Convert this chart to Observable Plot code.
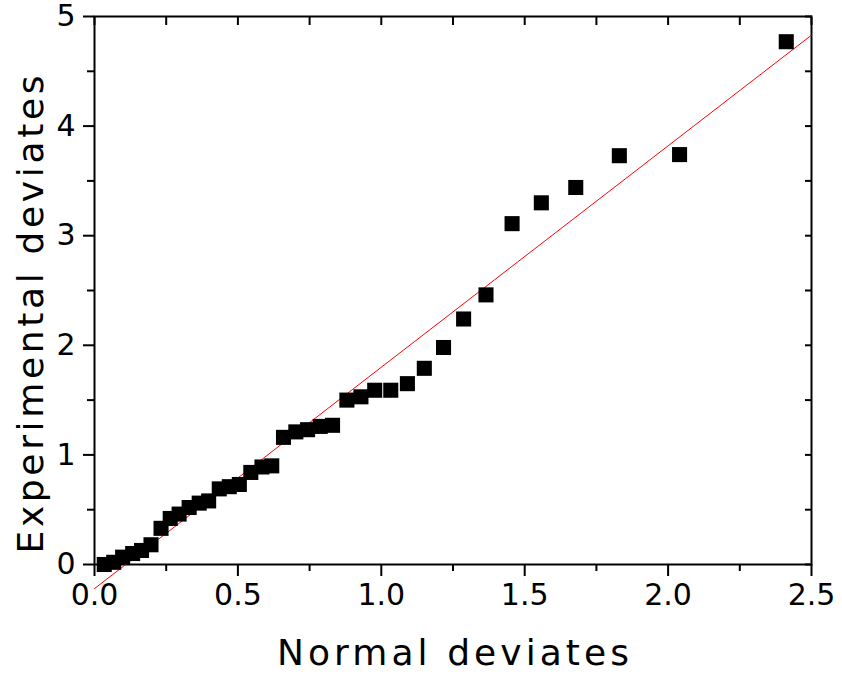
<!DOCTYPE html>
<html><head><meta charset="utf-8">
<script src="https://cdn.jsdelivr.net/npm/d3@7"></script>
<script src="https://cdn.jsdelivr.net/npm/@observablehq/plot@0.6"></script>
<style>html,body{margin:0;padding:0;background:#fff} svg{display:block}</style>
</head><body><div id="chart"></div>
<script>
const normalDeviates = [0.034,0.067,0.098,0.133,0.164,0.197,0.232,0.264,0.295,0.330,0.365,0.398,0.435,0.470,0.505,0.545,0.584,0.618,0.659,0.702,0.743,0.787,0.830,0.880,0.929,0.977,1.033,1.091,1.150,1.217,1.287,1.365,1.456,1.558,1.678,1.830,2.040,2.412];
const experimentalDeviates = [0.00,0.02,0.067,0.10,0.128,0.18,0.33,0.42,0.46,0.52,0.56,0.58,0.69,0.71,0.73,0.84,0.89,0.90,1.16,1.21,1.23,1.26,1.27,1.50,1.53,1.59,1.59,1.65,1.79,1.98,2.24,2.46,3.11,3.30,3.44,3.73,3.74,4.77];
const fitX = [0, 2.5];
const fitY = [-0.22, 4.83];
const xMajorTicks = [0, 0.5, 1.0, 1.5, 2.0, 2.5];
const xMinorTicks = [0.25, 0.75, 1.25, 1.75, 2.25];
const yMajorTicks = [0, 1, 2, 3, 4, 5];
const yMinorTicks = [0.5, 1.5, 2.5, 3.5, 4.5];
const xTitle = "Normal deviates";
const yTitle = "Experimental deviates";

const points = normalDeviates.map((x, i) => ({x, y: experimentalDeviates[i]}));
const fit = fitX.map((x, i) => ({x, y: fitY[i]}));
const blank = () => "";

const chart = Plot.plot({
  width: 842, height: 679,
  marginLeft: 94, marginRight: 31, marginTop: 16, marginBottom: 115,
  style: {fontFamily: "DejaVu Sans", fontSize: "30px", color: "black", background: "white", overflow: "visible"},
  x: {domain: [0, 2.5]},
  y: {domain: [0, 5]},
  marks: [
    Plot.axisX({anchor: "bottom", ticks: xMajorTicks, tickSize: 12, tickPadding: 7, tickFormat: d3.format(".1f"), label: null, fontSize: 30, strokeWidth: 2}),
    Plot.axisX({anchor: "bottom", ticks: xMinorTicks, tickSize: 7, tickFormat: blank, label: null, strokeWidth: 2}),
    Plot.axisX({anchor: "top", ticks: xMajorTicks.concat(xMinorTicks), tickSize: -8, tickFormat: blank, label: null, strokeWidth: 2}),
    Plot.axisY({anchor: "left", ticks: yMajorTicks, tickSize: 11, tickPadding: 8, tickFormat: d3.format("d"), label: null, fontSize: 30, strokeWidth: 2}),
    Plot.axisY({anchor: "left", ticks: yMinorTicks, tickSize: 7, tickFormat: blank, label: null, strokeWidth: 2}),
    Plot.axisY({anchor: "right", ticks: yMajorTicks.concat(yMinorTicks), tickSize: -7, tickFormat: blank, label: null, strokeWidth: 2}),
    Plot.frame({stroke: "black", strokeWidth: 2}),
    Plot.line(fit, {x: "x", y: "y", stroke: "#ff0000", strokeWidth: 1}),
    Plot.dot(points, {x: "x", y: "y", symbol: "square", r: 8.5, fill: "black", stroke: "none"}),
    Plot.text([xTitle], {text: d => d, frameAnchor: "bottom", dy: 89, textAnchor: "middle", lineAnchor: "middle", fontSize: 36, fill: "black"}),
    Plot.text([yTitle], {text: d => d, frameAnchor: "left", dx: -63, dy: 24, rotate: -90, textAnchor: "middle", lineAnchor: "middle", fontSize: 36, fill: "black"})
  ]
});
document.getElementById("chart").appendChild(chart);
for (const t of chart.querySelectorAll("text")) {
  if (t.textContent === xTitle) { t.setAttribute("textLength", 352); t.setAttribute("lengthAdjust", "spacing"); }
  if (t.textContent === yTitle) { t.setAttribute("textLength", 478); t.setAttribute("lengthAdjust", "spacing"); }
}
</script>
</body></html>
